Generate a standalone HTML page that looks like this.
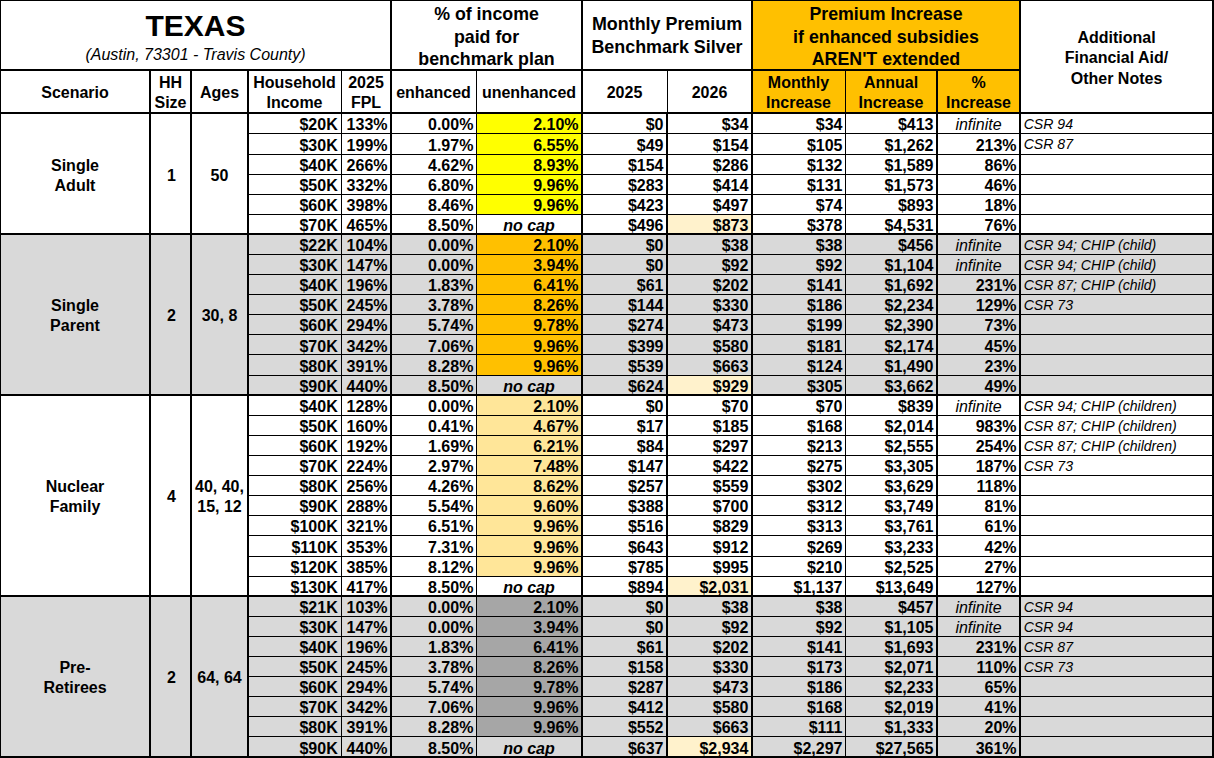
<!DOCTYPE html>
<html><head><meta charset="utf-8"><style>
html,body{margin:0;padding:0;background:#fff;}
body{width:1214px;height:758px;position:relative;overflow:hidden;font-family:"Liberation Sans",sans-serif;color:#000;}
.r{position:absolute;}
.t{position:absolute;white-space:nowrap;box-sizing:content-box;}
.b{font-weight:bold;}
.i{font-style:italic;}
.bi{font-weight:bold;font-style:italic;}
</style></head><body>
<div class="r" style="left:752px;top:0px;width:268px;height:113px;background:#FFC000"></div>
<div class="r" style="left:477px;top:113.3px;width:105px;height:100.50000000000001px;background:#FFFF00"></div>
<div class="r" style="left:667px;top:213.8px;width:85px;height:20.1px;background:#FFF2CC"></div>
<div class="r" style="left:0px;top:233.9px;width:1214px;height:160.80000000000004px;background:#D9D9D9"></div>
<div class="r" style="left:477px;top:233.9px;width:105px;height:140.70000000000002px;background:#FFC000"></div>
<div class="r" style="left:667px;top:374.6px;width:85px;height:20.1px;background:#FFF2CC"></div>
<div class="r" style="left:477px;top:394.70000000000005px;width:105px;height:180.89999999999998px;background:#FFE699"></div>
<div class="r" style="left:667px;top:575.6px;width:85px;height:20.1px;background:#FFF2CC"></div>
<div class="r" style="left:0px;top:595.7px;width:1214px;height:160.79999999999995px;background:#D9D9D9"></div>
<div class="r" style="left:477px;top:595.7px;width:105px;height:140.69999999999993px;background:#A6A6A6"></div>
<div class="r" style="left:667px;top:736.4px;width:85px;height:20.1px;background:#FFF2CC"></div>
<div class="r" style="left:0px;top:0px;width:1px;height:758px;background:#000"></div>
<div class="r" style="left:149px;top:69px;width:2px;height:689px;background:#000"></div>
<div class="r" style="left:190px;top:69px;width:2px;height:689px;background:#000"></div>
<div class="r" style="left:247px;top:69px;width:2px;height:689px;background:#000"></div>
<div class="r" style="left:341px;top:69px;width:1px;height:689px;background:#000"></div>
<div class="r" style="left:390px;top:0px;width:2px;height:758px;background:#000"></div>
<div class="r" style="left:476px;top:69px;width:1px;height:689px;background:#000"></div>
<div class="r" style="left:581px;top:0px;width:2px;height:758px;background:#000"></div>
<div class="r" style="left:667px;top:69px;width:1px;height:44px;background:#000"></div>
<div class="r" style="left:666px;top:112px;width:2px;height:646px;background:#000"></div>
<div class="r" style="left:751px;top:0px;width:2px;height:758px;background:#000"></div>
<div class="r" style="left:845px;top:69px;width:1px;height:689px;background:#000"></div>
<div class="r" style="left:936px;top:69px;width:2px;height:689px;background:#000"></div>
<div class="r" style="left:1019px;top:0px;width:2px;height:758px;background:#000"></div>
<div class="r" style="left:1212px;top:0px;width:2px;height:758px;background:#000"></div>
<div class="r" style="left:0px;top:0px;width:1214px;height:1px;background:#000"></div>
<div class="r" style="left:0px;top:69px;width:1020px;height:2px;background:#000"></div>
<div class="r" style="left:0px;top:112px;width:1214px;height:2px;background:#000"></div>
<div class="r" style="left:248px;top:133px;width:966px;height:1px;background:#000"></div>
<div class="r" style="left:248px;top:154px;width:966px;height:1px;background:#000"></div>
<div class="r" style="left:248px;top:174px;width:966px;height:1px;background:#000"></div>
<div class="r" style="left:248px;top:194px;width:966px;height:1px;background:#000"></div>
<div class="r" style="left:248px;top:214px;width:966px;height:1px;background:#000"></div>
<div class="r" style="left:0px;top:233px;width:1214px;height:2px;background:#000"></div>
<div class="r" style="left:248px;top:254px;width:966px;height:1px;background:#000"></div>
<div class="r" style="left:248px;top:274px;width:966px;height:1px;background:#000"></div>
<div class="r" style="left:248px;top:294px;width:966px;height:1px;background:#000"></div>
<div class="r" style="left:248px;top:314px;width:966px;height:1px;background:#000"></div>
<div class="r" style="left:248px;top:334px;width:966px;height:1px;background:#000"></div>
<div class="r" style="left:248px;top:354px;width:966px;height:1px;background:#000"></div>
<div class="r" style="left:248px;top:375px;width:966px;height:1px;background:#000"></div>
<div class="r" style="left:0px;top:394px;width:1214px;height:2px;background:#000"></div>
<div class="r" style="left:248px;top:415px;width:966px;height:1px;background:#000"></div>
<div class="r" style="left:248px;top:435px;width:966px;height:1px;background:#000"></div>
<div class="r" style="left:248px;top:455px;width:966px;height:1px;background:#000"></div>
<div class="r" style="left:248px;top:475px;width:966px;height:1px;background:#000"></div>
<div class="r" style="left:248px;top:495px;width:966px;height:1px;background:#000"></div>
<div class="r" style="left:248px;top:515px;width:966px;height:1px;background:#000"></div>
<div class="r" style="left:248px;top:535px;width:966px;height:1px;background:#000"></div>
<div class="r" style="left:248px;top:556px;width:966px;height:1px;background:#000"></div>
<div class="r" style="left:248px;top:576px;width:966px;height:1px;background:#000"></div>
<div class="r" style="left:0px;top:595px;width:1214px;height:2px;background:#000"></div>
<div class="r" style="left:248px;top:616px;width:966px;height:1px;background:#000"></div>
<div class="r" style="left:248px;top:636px;width:966px;height:1px;background:#000"></div>
<div class="r" style="left:248px;top:656px;width:966px;height:1px;background:#000"></div>
<div class="r" style="left:248px;top:676px;width:966px;height:1px;background:#000"></div>
<div class="r" style="left:248px;top:696px;width:966px;height:1px;background:#000"></div>
<div class="r" style="left:248px;top:716px;width:966px;height:1px;background:#000"></div>
<div class="r" style="left:248px;top:736px;width:966px;height:1px;background:#000"></div>
<div class="r" style="left:0px;top:756px;width:1214px;height:2px;background:#000"></div>
<div class="t b" style="left:0px;top:0px;width:391px;height:70px;text-align:center;line-height:36px;font-size:30px;top:7.5px;height:36px;">TEXAS</div>
<div class="t i" style="left:0px;top:40px;width:391px;height:30px;text-align:center;line-height:20px;font-size:16px;top:45px;height:20px;">(Austin, 73301 - Travis County)</div>
<div class="t b" style="left:391px;top:3px;width:191px;height:68px;text-align:center;line-height:22.5px;font-size:17.8px;">% of income<br>paid for<br>benchmark plan</div>
<div class="t b" style="left:582px;top:12.9px;width:170px;height:50px;text-align:center;line-height:23.2px;font-size:17.9px;">Monthly Premium<br>Benchmark Silver</div>
<div class="t b" style="left:752px;top:3px;width:268px;height:68px;text-align:center;line-height:22.5px;font-size:17.8px;">Premium Increase<br>if enhanced subsidies<br>AREN'T extended</div>
<div class="t b" style="left:1020px;top:28px;width:193px;height:70px;text-align:center;line-height:20.3px;font-size:16px;">Additional<br>Financial Aid/<br>Other Notes</div>
<div class="t b" style="left:0px;top:82.8px;width:150px;height:20px;text-align:center;line-height:20px;font-size:16px;">Scenario</div>
<div class="t b" style="left:150px;top:73.2px;width:41px;height:40px;text-align:center;line-height:20px;font-size:16px;">HH<br>Size</div>
<div class="t b" style="left:191px;top:82.8px;width:57px;height:20px;text-align:center;line-height:20px;font-size:16px;">Ages</div>
<div class="t b" style="left:248px;top:73.2px;width:93px;height:40px;text-align:center;line-height:20px;font-size:16px;">Household<br>Income</div>
<div class="t b" style="left:341px;top:73.2px;width:50px;height:40px;text-align:center;line-height:20px;font-size:16px;">2025<br>FPL</div>
<div class="t b" style="left:391px;top:82.8px;width:85px;height:20px;text-align:center;line-height:20px;font-size:16px;">enhanced</div>
<div class="t b" style="left:476px;top:82.8px;width:106px;height:20px;text-align:center;line-height:20px;font-size:16px;">unenhanced</div>
<div class="t b" style="left:582px;top:82.8px;width:85px;height:20px;text-align:center;line-height:20px;font-size:16px;">2025</div>
<div class="t b" style="left:667px;top:82.8px;width:85px;height:20px;text-align:center;line-height:20px;font-size:16px;">2026</div>
<div class="t b" style="left:752px;top:73.2px;width:93px;height:40px;text-align:center;line-height:20px;font-size:16px;">Monthly<br>Increase</div>
<div class="t b" style="left:845px;top:73.2px;width:92px;height:40px;text-align:center;line-height:20px;font-size:16px;">Annual<br>Increase</div>
<div class="t b" style="left:937px;top:73.2px;width:83px;height:40px;text-align:center;line-height:20px;font-size:16px;">%<br>Increase</div>
<div class="t b" style="left:0px;top:155.6px;width:150px;height:40px;text-align:center;line-height:20px;font-size:16px;">Single<br>Adult</div>
<div class="t b" style="left:151px;top:165.6px;width:41px;height:20px;text-align:center;line-height:20px;font-size:16px;">1</div>
<div class="t b" style="left:191px;top:165.6px;width:57px;height:20px;text-align:center;line-height:20px;font-size:16px;">50</div>
<div class="t b" style="left:249px;top:115.39999999999999px;width:88.7px;height:20.1px;text-align:right;padding-right:3.3px;line-height:20.1px;font-size:16px;">$20K</div>
<div class="t b" style="left:342px;top:115.39999999999999px;width:45.5px;height:20.1px;text-align:right;padding-right:2.5px;line-height:20.1px;font-size:16px;">133%</div>
<div class="t b" style="left:392px;top:115.39999999999999px;width:81.4px;height:20.1px;text-align:right;padding-right:2.6px;line-height:20.1px;font-size:16px;">0.00%</div>
<div class="t b" style="left:477px;top:115.39999999999999px;width:101.6px;height:20.1px;text-align:right;padding-right:2.4px;line-height:20.1px;font-size:16px;">2.10%</div>
<div class="t b" style="left:583px;top:115.39999999999999px;width:80.5px;height:20.1px;text-align:right;padding-right:2.5px;line-height:20.1px;font-size:16px;">$0</div>
<div class="t b" style="left:668px;top:115.39999999999999px;width:80.4px;height:20.1px;text-align:right;padding-right:2.6px;line-height:20.1px;font-size:16px;">$34</div>
<div class="t b" style="left:753px;top:115.39999999999999px;width:89.5px;height:20.1px;text-align:right;padding-right:2.5px;line-height:20.1px;font-size:16px;">$34</div>
<div class="t b" style="left:846px;top:115.39999999999999px;width:87.5px;height:20.1px;text-align:right;padding-right:2.5px;line-height:20.1px;font-size:16px;">$413</div>
<div class="t i" style="left:938px;top:115.39999999999999px;width:81px;height:20.1px;text-align:center;line-height:20.1px;font-size:16px;">infinite</div>
<div class="t i" style="left:1021px;top:114.19999999999999px;width:190px;height:20.1px;text-align:left;padding-left:2.7px;line-height:20.1px;font-size:14.1px;">CSR 94</div>
<div class="t b" style="left:249px;top:135.5px;width:88.7px;height:20.1px;text-align:right;padding-right:3.3px;line-height:20.1px;font-size:16px;">$30K</div>
<div class="t b" style="left:342px;top:135.5px;width:45.5px;height:20.1px;text-align:right;padding-right:2.5px;line-height:20.1px;font-size:16px;">199%</div>
<div class="t b" style="left:392px;top:135.5px;width:81.4px;height:20.1px;text-align:right;padding-right:2.6px;line-height:20.1px;font-size:16px;">1.97%</div>
<div class="t b" style="left:477px;top:135.5px;width:101.6px;height:20.1px;text-align:right;padding-right:2.4px;line-height:20.1px;font-size:16px;">6.55%</div>
<div class="t b" style="left:583px;top:135.5px;width:80.5px;height:20.1px;text-align:right;padding-right:2.5px;line-height:20.1px;font-size:16px;">$49</div>
<div class="t b" style="left:668px;top:135.5px;width:80.4px;height:20.1px;text-align:right;padding-right:2.6px;line-height:20.1px;font-size:16px;">$154</div>
<div class="t b" style="left:753px;top:135.5px;width:89.5px;height:20.1px;text-align:right;padding-right:2.5px;line-height:20.1px;font-size:16px;">$105</div>
<div class="t b" style="left:846px;top:135.5px;width:87.5px;height:20.1px;text-align:right;padding-right:2.5px;line-height:20.1px;font-size:16px;">$1,262</div>
<div class="t b" style="left:938px;top:135.5px;width:78.6px;height:20.1px;text-align:right;padding-right:2.4px;line-height:20.1px;font-size:16px;">213%</div>
<div class="t i" style="left:1021px;top:134.3px;width:190px;height:20.1px;text-align:left;padding-left:2.7px;line-height:20.1px;font-size:14.1px;">CSR 87</div>
<div class="t b" style="left:249px;top:155.6px;width:88.7px;height:20.1px;text-align:right;padding-right:3.3px;line-height:20.1px;font-size:16px;">$40K</div>
<div class="t b" style="left:342px;top:155.6px;width:45.5px;height:20.1px;text-align:right;padding-right:2.5px;line-height:20.1px;font-size:16px;">266%</div>
<div class="t b" style="left:392px;top:155.6px;width:81.4px;height:20.1px;text-align:right;padding-right:2.6px;line-height:20.1px;font-size:16px;">4.62%</div>
<div class="t b" style="left:477px;top:155.6px;width:101.6px;height:20.1px;text-align:right;padding-right:2.4px;line-height:20.1px;font-size:16px;">8.93%</div>
<div class="t b" style="left:583px;top:155.6px;width:80.5px;height:20.1px;text-align:right;padding-right:2.5px;line-height:20.1px;font-size:16px;">$154</div>
<div class="t b" style="left:668px;top:155.6px;width:80.4px;height:20.1px;text-align:right;padding-right:2.6px;line-height:20.1px;font-size:16px;">$286</div>
<div class="t b" style="left:753px;top:155.6px;width:89.5px;height:20.1px;text-align:right;padding-right:2.5px;line-height:20.1px;font-size:16px;">$132</div>
<div class="t b" style="left:846px;top:155.6px;width:87.5px;height:20.1px;text-align:right;padding-right:2.5px;line-height:20.1px;font-size:16px;">$1,589</div>
<div class="t b" style="left:938px;top:155.6px;width:78.6px;height:20.1px;text-align:right;padding-right:2.4px;line-height:20.1px;font-size:16px;">86%</div>
<div class="t b" style="left:249px;top:175.7px;width:88.7px;height:20.1px;text-align:right;padding-right:3.3px;line-height:20.1px;font-size:16px;">$50K</div>
<div class="t b" style="left:342px;top:175.7px;width:45.5px;height:20.1px;text-align:right;padding-right:2.5px;line-height:20.1px;font-size:16px;">332%</div>
<div class="t b" style="left:392px;top:175.7px;width:81.4px;height:20.1px;text-align:right;padding-right:2.6px;line-height:20.1px;font-size:16px;">6.80%</div>
<div class="t b" style="left:477px;top:175.7px;width:101.6px;height:20.1px;text-align:right;padding-right:2.4px;line-height:20.1px;font-size:16px;">9.96%</div>
<div class="t b" style="left:583px;top:175.7px;width:80.5px;height:20.1px;text-align:right;padding-right:2.5px;line-height:20.1px;font-size:16px;">$283</div>
<div class="t b" style="left:668px;top:175.7px;width:80.4px;height:20.1px;text-align:right;padding-right:2.6px;line-height:20.1px;font-size:16px;">$414</div>
<div class="t b" style="left:753px;top:175.7px;width:89.5px;height:20.1px;text-align:right;padding-right:2.5px;line-height:20.1px;font-size:16px;">$131</div>
<div class="t b" style="left:846px;top:175.7px;width:87.5px;height:20.1px;text-align:right;padding-right:2.5px;line-height:20.1px;font-size:16px;">$1,573</div>
<div class="t b" style="left:938px;top:175.7px;width:78.6px;height:20.1px;text-align:right;padding-right:2.4px;line-height:20.1px;font-size:16px;">46%</div>
<div class="t b" style="left:249px;top:195.79999999999998px;width:88.7px;height:20.1px;text-align:right;padding-right:3.3px;line-height:20.1px;font-size:16px;">$60K</div>
<div class="t b" style="left:342px;top:195.79999999999998px;width:45.5px;height:20.1px;text-align:right;padding-right:2.5px;line-height:20.1px;font-size:16px;">398%</div>
<div class="t b" style="left:392px;top:195.79999999999998px;width:81.4px;height:20.1px;text-align:right;padding-right:2.6px;line-height:20.1px;font-size:16px;">8.46%</div>
<div class="t b" style="left:477px;top:195.79999999999998px;width:101.6px;height:20.1px;text-align:right;padding-right:2.4px;line-height:20.1px;font-size:16px;">9.96%</div>
<div class="t b" style="left:583px;top:195.79999999999998px;width:80.5px;height:20.1px;text-align:right;padding-right:2.5px;line-height:20.1px;font-size:16px;">$423</div>
<div class="t b" style="left:668px;top:195.79999999999998px;width:80.4px;height:20.1px;text-align:right;padding-right:2.6px;line-height:20.1px;font-size:16px;">$497</div>
<div class="t b" style="left:753px;top:195.79999999999998px;width:89.5px;height:20.1px;text-align:right;padding-right:2.5px;line-height:20.1px;font-size:16px;">$74</div>
<div class="t b" style="left:846px;top:195.79999999999998px;width:87.5px;height:20.1px;text-align:right;padding-right:2.5px;line-height:20.1px;font-size:16px;">$893</div>
<div class="t b" style="left:938px;top:195.79999999999998px;width:78.6px;height:20.1px;text-align:right;padding-right:2.4px;line-height:20.1px;font-size:16px;">18%</div>
<div class="t b" style="left:249px;top:215.9px;width:88.7px;height:20.1px;text-align:right;padding-right:3.3px;line-height:20.1px;font-size:16px;">$70K</div>
<div class="t b" style="left:342px;top:215.9px;width:45.5px;height:20.1px;text-align:right;padding-right:2.5px;line-height:20.1px;font-size:16px;">465%</div>
<div class="t b" style="left:392px;top:215.9px;width:81.4px;height:20.1px;text-align:right;padding-right:2.6px;line-height:20.1px;font-size:16px;">8.50%</div>
<div class="t bi" style="left:477px;top:215.9px;width:104px;height:20.1px;text-align:center;line-height:20.1px;font-size:16px;">no cap</div>
<div class="t b" style="left:583px;top:215.9px;width:80.5px;height:20.1px;text-align:right;padding-right:2.5px;line-height:20.1px;font-size:16px;">$496</div>
<div class="t b" style="left:668px;top:215.9px;width:80.4px;height:20.1px;text-align:right;padding-right:2.6px;line-height:20.1px;font-size:16px;">$873</div>
<div class="t b" style="left:753px;top:215.9px;width:89.5px;height:20.1px;text-align:right;padding-right:2.5px;line-height:20.1px;font-size:16px;">$378</div>
<div class="t b" style="left:846px;top:215.9px;width:87.5px;height:20.1px;text-align:right;padding-right:2.5px;line-height:20.1px;font-size:16px;">$4,531</div>
<div class="t b" style="left:938px;top:215.9px;width:78.6px;height:20.1px;text-align:right;padding-right:2.4px;line-height:20.1px;font-size:16px;">76%</div>
<div class="t b" style="left:0px;top:296.3px;width:150px;height:40px;text-align:center;line-height:20px;font-size:16px;">Single<br>Parent</div>
<div class="t b" style="left:151px;top:306.3px;width:41px;height:20px;text-align:center;line-height:20px;font-size:16px;">2</div>
<div class="t b" style="left:191px;top:306.3px;width:57px;height:20px;text-align:center;line-height:20px;font-size:16px;">30, 8</div>
<div class="t b" style="left:249px;top:236.0px;width:88.7px;height:20.1px;text-align:right;padding-right:3.3px;line-height:20.1px;font-size:16px;">$22K</div>
<div class="t b" style="left:342px;top:236.0px;width:45.5px;height:20.1px;text-align:right;padding-right:2.5px;line-height:20.1px;font-size:16px;">104%</div>
<div class="t b" style="left:392px;top:236.0px;width:81.4px;height:20.1px;text-align:right;padding-right:2.6px;line-height:20.1px;font-size:16px;">0.00%</div>
<div class="t b" style="left:477px;top:236.0px;width:101.6px;height:20.1px;text-align:right;padding-right:2.4px;line-height:20.1px;font-size:16px;">2.10%</div>
<div class="t b" style="left:583px;top:236.0px;width:80.5px;height:20.1px;text-align:right;padding-right:2.5px;line-height:20.1px;font-size:16px;">$0</div>
<div class="t b" style="left:668px;top:236.0px;width:80.4px;height:20.1px;text-align:right;padding-right:2.6px;line-height:20.1px;font-size:16px;">$38</div>
<div class="t b" style="left:753px;top:236.0px;width:89.5px;height:20.1px;text-align:right;padding-right:2.5px;line-height:20.1px;font-size:16px;">$38</div>
<div class="t b" style="left:846px;top:236.0px;width:87.5px;height:20.1px;text-align:right;padding-right:2.5px;line-height:20.1px;font-size:16px;">$456</div>
<div class="t i" style="left:938px;top:236.0px;width:81px;height:20.1px;text-align:center;line-height:20.1px;font-size:16px;">infinite</div>
<div class="t i" style="left:1021px;top:234.8px;width:190px;height:20.1px;text-align:left;padding-left:2.7px;line-height:20.1px;font-size:14.1px;">CSR 94; CHIP (child)</div>
<div class="t b" style="left:249px;top:256.1px;width:88.7px;height:20.1px;text-align:right;padding-right:3.3px;line-height:20.1px;font-size:16px;">$30K</div>
<div class="t b" style="left:342px;top:256.1px;width:45.5px;height:20.1px;text-align:right;padding-right:2.5px;line-height:20.1px;font-size:16px;">147%</div>
<div class="t b" style="left:392px;top:256.1px;width:81.4px;height:20.1px;text-align:right;padding-right:2.6px;line-height:20.1px;font-size:16px;">0.00%</div>
<div class="t b" style="left:477px;top:256.1px;width:101.6px;height:20.1px;text-align:right;padding-right:2.4px;line-height:20.1px;font-size:16px;">3.94%</div>
<div class="t b" style="left:583px;top:256.1px;width:80.5px;height:20.1px;text-align:right;padding-right:2.5px;line-height:20.1px;font-size:16px;">$0</div>
<div class="t b" style="left:668px;top:256.1px;width:80.4px;height:20.1px;text-align:right;padding-right:2.6px;line-height:20.1px;font-size:16px;">$92</div>
<div class="t b" style="left:753px;top:256.1px;width:89.5px;height:20.1px;text-align:right;padding-right:2.5px;line-height:20.1px;font-size:16px;">$92</div>
<div class="t b" style="left:846px;top:256.1px;width:87.5px;height:20.1px;text-align:right;padding-right:2.5px;line-height:20.1px;font-size:16px;">$1,104</div>
<div class="t i" style="left:938px;top:256.1px;width:81px;height:20.1px;text-align:center;line-height:20.1px;font-size:16px;">infinite</div>
<div class="t i" style="left:1021px;top:254.90000000000003px;width:190px;height:20.1px;text-align:left;padding-left:2.7px;line-height:20.1px;font-size:14.1px;">CSR 94; CHIP (child)</div>
<div class="t b" style="left:249px;top:276.20000000000005px;width:88.7px;height:20.1px;text-align:right;padding-right:3.3px;line-height:20.1px;font-size:16px;">$40K</div>
<div class="t b" style="left:342px;top:276.20000000000005px;width:45.5px;height:20.1px;text-align:right;padding-right:2.5px;line-height:20.1px;font-size:16px;">196%</div>
<div class="t b" style="left:392px;top:276.20000000000005px;width:81.4px;height:20.1px;text-align:right;padding-right:2.6px;line-height:20.1px;font-size:16px;">1.83%</div>
<div class="t b" style="left:477px;top:276.20000000000005px;width:101.6px;height:20.1px;text-align:right;padding-right:2.4px;line-height:20.1px;font-size:16px;">6.41%</div>
<div class="t b" style="left:583px;top:276.20000000000005px;width:80.5px;height:20.1px;text-align:right;padding-right:2.5px;line-height:20.1px;font-size:16px;">$61</div>
<div class="t b" style="left:668px;top:276.20000000000005px;width:80.4px;height:20.1px;text-align:right;padding-right:2.6px;line-height:20.1px;font-size:16px;">$202</div>
<div class="t b" style="left:753px;top:276.20000000000005px;width:89.5px;height:20.1px;text-align:right;padding-right:2.5px;line-height:20.1px;font-size:16px;">$141</div>
<div class="t b" style="left:846px;top:276.20000000000005px;width:87.5px;height:20.1px;text-align:right;padding-right:2.5px;line-height:20.1px;font-size:16px;">$1,692</div>
<div class="t b" style="left:938px;top:276.20000000000005px;width:78.6px;height:20.1px;text-align:right;padding-right:2.4px;line-height:20.1px;font-size:16px;">231%</div>
<div class="t i" style="left:1021px;top:275.00000000000006px;width:190px;height:20.1px;text-align:left;padding-left:2.7px;line-height:20.1px;font-size:14.1px;">CSR 87; CHIP (child)</div>
<div class="t b" style="left:249px;top:296.3px;width:88.7px;height:20.1px;text-align:right;padding-right:3.3px;line-height:20.1px;font-size:16px;">$50K</div>
<div class="t b" style="left:342px;top:296.3px;width:45.5px;height:20.1px;text-align:right;padding-right:2.5px;line-height:20.1px;font-size:16px;">245%</div>
<div class="t b" style="left:392px;top:296.3px;width:81.4px;height:20.1px;text-align:right;padding-right:2.6px;line-height:20.1px;font-size:16px;">3.78%</div>
<div class="t b" style="left:477px;top:296.3px;width:101.6px;height:20.1px;text-align:right;padding-right:2.4px;line-height:20.1px;font-size:16px;">8.26%</div>
<div class="t b" style="left:583px;top:296.3px;width:80.5px;height:20.1px;text-align:right;padding-right:2.5px;line-height:20.1px;font-size:16px;">$144</div>
<div class="t b" style="left:668px;top:296.3px;width:80.4px;height:20.1px;text-align:right;padding-right:2.6px;line-height:20.1px;font-size:16px;">$330</div>
<div class="t b" style="left:753px;top:296.3px;width:89.5px;height:20.1px;text-align:right;padding-right:2.5px;line-height:20.1px;font-size:16px;">$186</div>
<div class="t b" style="left:846px;top:296.3px;width:87.5px;height:20.1px;text-align:right;padding-right:2.5px;line-height:20.1px;font-size:16px;">$2,234</div>
<div class="t b" style="left:938px;top:296.3px;width:78.6px;height:20.1px;text-align:right;padding-right:2.4px;line-height:20.1px;font-size:16px;">129%</div>
<div class="t i" style="left:1021px;top:295.1px;width:190px;height:20.1px;text-align:left;padding-left:2.7px;line-height:20.1px;font-size:14.1px;">CSR 73</div>
<div class="t b" style="left:249px;top:316.40000000000003px;width:88.7px;height:20.1px;text-align:right;padding-right:3.3px;line-height:20.1px;font-size:16px;">$60K</div>
<div class="t b" style="left:342px;top:316.40000000000003px;width:45.5px;height:20.1px;text-align:right;padding-right:2.5px;line-height:20.1px;font-size:16px;">294%</div>
<div class="t b" style="left:392px;top:316.40000000000003px;width:81.4px;height:20.1px;text-align:right;padding-right:2.6px;line-height:20.1px;font-size:16px;">5.74%</div>
<div class="t b" style="left:477px;top:316.40000000000003px;width:101.6px;height:20.1px;text-align:right;padding-right:2.4px;line-height:20.1px;font-size:16px;">9.78%</div>
<div class="t b" style="left:583px;top:316.40000000000003px;width:80.5px;height:20.1px;text-align:right;padding-right:2.5px;line-height:20.1px;font-size:16px;">$274</div>
<div class="t b" style="left:668px;top:316.40000000000003px;width:80.4px;height:20.1px;text-align:right;padding-right:2.6px;line-height:20.1px;font-size:16px;">$473</div>
<div class="t b" style="left:753px;top:316.40000000000003px;width:89.5px;height:20.1px;text-align:right;padding-right:2.5px;line-height:20.1px;font-size:16px;">$199</div>
<div class="t b" style="left:846px;top:316.40000000000003px;width:87.5px;height:20.1px;text-align:right;padding-right:2.5px;line-height:20.1px;font-size:16px;">$2,390</div>
<div class="t b" style="left:938px;top:316.40000000000003px;width:78.6px;height:20.1px;text-align:right;padding-right:2.4px;line-height:20.1px;font-size:16px;">73%</div>
<div class="t b" style="left:249px;top:336.50000000000006px;width:88.7px;height:20.1px;text-align:right;padding-right:3.3px;line-height:20.1px;font-size:16px;">$70K</div>
<div class="t b" style="left:342px;top:336.50000000000006px;width:45.5px;height:20.1px;text-align:right;padding-right:2.5px;line-height:20.1px;font-size:16px;">342%</div>
<div class="t b" style="left:392px;top:336.50000000000006px;width:81.4px;height:20.1px;text-align:right;padding-right:2.6px;line-height:20.1px;font-size:16px;">7.06%</div>
<div class="t b" style="left:477px;top:336.50000000000006px;width:101.6px;height:20.1px;text-align:right;padding-right:2.4px;line-height:20.1px;font-size:16px;">9.96%</div>
<div class="t b" style="left:583px;top:336.50000000000006px;width:80.5px;height:20.1px;text-align:right;padding-right:2.5px;line-height:20.1px;font-size:16px;">$399</div>
<div class="t b" style="left:668px;top:336.50000000000006px;width:80.4px;height:20.1px;text-align:right;padding-right:2.6px;line-height:20.1px;font-size:16px;">$580</div>
<div class="t b" style="left:753px;top:336.50000000000006px;width:89.5px;height:20.1px;text-align:right;padding-right:2.5px;line-height:20.1px;font-size:16px;">$181</div>
<div class="t b" style="left:846px;top:336.50000000000006px;width:87.5px;height:20.1px;text-align:right;padding-right:2.5px;line-height:20.1px;font-size:16px;">$2,174</div>
<div class="t b" style="left:938px;top:336.50000000000006px;width:78.6px;height:20.1px;text-align:right;padding-right:2.4px;line-height:20.1px;font-size:16px;">45%</div>
<div class="t b" style="left:249px;top:356.6px;width:88.7px;height:20.1px;text-align:right;padding-right:3.3px;line-height:20.1px;font-size:16px;">$80K</div>
<div class="t b" style="left:342px;top:356.6px;width:45.5px;height:20.1px;text-align:right;padding-right:2.5px;line-height:20.1px;font-size:16px;">391%</div>
<div class="t b" style="left:392px;top:356.6px;width:81.4px;height:20.1px;text-align:right;padding-right:2.6px;line-height:20.1px;font-size:16px;">8.28%</div>
<div class="t b" style="left:477px;top:356.6px;width:101.6px;height:20.1px;text-align:right;padding-right:2.4px;line-height:20.1px;font-size:16px;">9.96%</div>
<div class="t b" style="left:583px;top:356.6px;width:80.5px;height:20.1px;text-align:right;padding-right:2.5px;line-height:20.1px;font-size:16px;">$539</div>
<div class="t b" style="left:668px;top:356.6px;width:80.4px;height:20.1px;text-align:right;padding-right:2.6px;line-height:20.1px;font-size:16px;">$663</div>
<div class="t b" style="left:753px;top:356.6px;width:89.5px;height:20.1px;text-align:right;padding-right:2.5px;line-height:20.1px;font-size:16px;">$124</div>
<div class="t b" style="left:846px;top:356.6px;width:87.5px;height:20.1px;text-align:right;padding-right:2.5px;line-height:20.1px;font-size:16px;">$1,490</div>
<div class="t b" style="left:938px;top:356.6px;width:78.6px;height:20.1px;text-align:right;padding-right:2.4px;line-height:20.1px;font-size:16px;">23%</div>
<div class="t b" style="left:249px;top:376.70000000000005px;width:88.7px;height:20.1px;text-align:right;padding-right:3.3px;line-height:20.1px;font-size:16px;">$90K</div>
<div class="t b" style="left:342px;top:376.70000000000005px;width:45.5px;height:20.1px;text-align:right;padding-right:2.5px;line-height:20.1px;font-size:16px;">440%</div>
<div class="t b" style="left:392px;top:376.70000000000005px;width:81.4px;height:20.1px;text-align:right;padding-right:2.6px;line-height:20.1px;font-size:16px;">8.50%</div>
<div class="t bi" style="left:477px;top:376.70000000000005px;width:104px;height:20.1px;text-align:center;line-height:20.1px;font-size:16px;">no cap</div>
<div class="t b" style="left:583px;top:376.70000000000005px;width:80.5px;height:20.1px;text-align:right;padding-right:2.5px;line-height:20.1px;font-size:16px;">$624</div>
<div class="t b" style="left:668px;top:376.70000000000005px;width:80.4px;height:20.1px;text-align:right;padding-right:2.6px;line-height:20.1px;font-size:16px;">$929</div>
<div class="t b" style="left:753px;top:376.70000000000005px;width:89.5px;height:20.1px;text-align:right;padding-right:2.5px;line-height:20.1px;font-size:16px;">$305</div>
<div class="t b" style="left:846px;top:376.70000000000005px;width:87.5px;height:20.1px;text-align:right;padding-right:2.5px;line-height:20.1px;font-size:16px;">$3,662</div>
<div class="t b" style="left:938px;top:376.70000000000005px;width:78.6px;height:20.1px;text-align:right;padding-right:2.4px;line-height:20.1px;font-size:16px;">49%</div>
<div class="t b" style="left:0px;top:477.20000000000005px;width:150px;height:40px;text-align:center;line-height:20px;font-size:16px;">Nuclear<br>Family</div>
<div class="t b" style="left:151px;top:487.20000000000005px;width:41px;height:20px;text-align:center;line-height:20px;font-size:16px;">4</div>
<div class="t b" style="left:191px;top:477.20000000000005px;width:57px;height:40px;text-align:center;line-height:20px;font-size:16px;">40, 40,<br>15, 12</div>
<div class="t b" style="left:249px;top:396.80000000000007px;width:88.7px;height:20.1px;text-align:right;padding-right:3.3px;line-height:20.1px;font-size:16px;">$40K</div>
<div class="t b" style="left:342px;top:396.80000000000007px;width:45.5px;height:20.1px;text-align:right;padding-right:2.5px;line-height:20.1px;font-size:16px;">128%</div>
<div class="t b" style="left:392px;top:396.80000000000007px;width:81.4px;height:20.1px;text-align:right;padding-right:2.6px;line-height:20.1px;font-size:16px;">0.00%</div>
<div class="t b" style="left:477px;top:396.80000000000007px;width:101.6px;height:20.1px;text-align:right;padding-right:2.4px;line-height:20.1px;font-size:16px;">2.10%</div>
<div class="t b" style="left:583px;top:396.80000000000007px;width:80.5px;height:20.1px;text-align:right;padding-right:2.5px;line-height:20.1px;font-size:16px;">$0</div>
<div class="t b" style="left:668px;top:396.80000000000007px;width:80.4px;height:20.1px;text-align:right;padding-right:2.6px;line-height:20.1px;font-size:16px;">$70</div>
<div class="t b" style="left:753px;top:396.80000000000007px;width:89.5px;height:20.1px;text-align:right;padding-right:2.5px;line-height:20.1px;font-size:16px;">$70</div>
<div class="t b" style="left:846px;top:396.80000000000007px;width:87.5px;height:20.1px;text-align:right;padding-right:2.5px;line-height:20.1px;font-size:16px;">$839</div>
<div class="t i" style="left:938px;top:396.80000000000007px;width:81px;height:20.1px;text-align:center;line-height:20.1px;font-size:16px;">infinite</div>
<div class="t i" style="left:1021px;top:395.6000000000001px;width:190px;height:20.1px;text-align:left;padding-left:2.7px;line-height:20.1px;font-size:14.1px;">CSR 94; CHIP (children)</div>
<div class="t b" style="left:249px;top:416.90000000000003px;width:88.7px;height:20.1px;text-align:right;padding-right:3.3px;line-height:20.1px;font-size:16px;">$50K</div>
<div class="t b" style="left:342px;top:416.90000000000003px;width:45.5px;height:20.1px;text-align:right;padding-right:2.5px;line-height:20.1px;font-size:16px;">160%</div>
<div class="t b" style="left:392px;top:416.90000000000003px;width:81.4px;height:20.1px;text-align:right;padding-right:2.6px;line-height:20.1px;font-size:16px;">0.41%</div>
<div class="t b" style="left:477px;top:416.90000000000003px;width:101.6px;height:20.1px;text-align:right;padding-right:2.4px;line-height:20.1px;font-size:16px;">4.67%</div>
<div class="t b" style="left:583px;top:416.90000000000003px;width:80.5px;height:20.1px;text-align:right;padding-right:2.5px;line-height:20.1px;font-size:16px;">$17</div>
<div class="t b" style="left:668px;top:416.90000000000003px;width:80.4px;height:20.1px;text-align:right;padding-right:2.6px;line-height:20.1px;font-size:16px;">$185</div>
<div class="t b" style="left:753px;top:416.90000000000003px;width:89.5px;height:20.1px;text-align:right;padding-right:2.5px;line-height:20.1px;font-size:16px;">$168</div>
<div class="t b" style="left:846px;top:416.90000000000003px;width:87.5px;height:20.1px;text-align:right;padding-right:2.5px;line-height:20.1px;font-size:16px;">$2,014</div>
<div class="t b" style="left:938px;top:416.90000000000003px;width:78.6px;height:20.1px;text-align:right;padding-right:2.4px;line-height:20.1px;font-size:16px;">983%</div>
<div class="t i" style="left:1021px;top:415.70000000000005px;width:190px;height:20.1px;text-align:left;padding-left:2.7px;line-height:20.1px;font-size:14.1px;">CSR 87; CHIP (children)</div>
<div class="t b" style="left:249px;top:437.00000000000006px;width:88.7px;height:20.1px;text-align:right;padding-right:3.3px;line-height:20.1px;font-size:16px;">$60K</div>
<div class="t b" style="left:342px;top:437.00000000000006px;width:45.5px;height:20.1px;text-align:right;padding-right:2.5px;line-height:20.1px;font-size:16px;">192%</div>
<div class="t b" style="left:392px;top:437.00000000000006px;width:81.4px;height:20.1px;text-align:right;padding-right:2.6px;line-height:20.1px;font-size:16px;">1.69%</div>
<div class="t b" style="left:477px;top:437.00000000000006px;width:101.6px;height:20.1px;text-align:right;padding-right:2.4px;line-height:20.1px;font-size:16px;">6.21%</div>
<div class="t b" style="left:583px;top:437.00000000000006px;width:80.5px;height:20.1px;text-align:right;padding-right:2.5px;line-height:20.1px;font-size:16px;">$84</div>
<div class="t b" style="left:668px;top:437.00000000000006px;width:80.4px;height:20.1px;text-align:right;padding-right:2.6px;line-height:20.1px;font-size:16px;">$297</div>
<div class="t b" style="left:753px;top:437.00000000000006px;width:89.5px;height:20.1px;text-align:right;padding-right:2.5px;line-height:20.1px;font-size:16px;">$213</div>
<div class="t b" style="left:846px;top:437.00000000000006px;width:87.5px;height:20.1px;text-align:right;padding-right:2.5px;line-height:20.1px;font-size:16px;">$2,555</div>
<div class="t b" style="left:938px;top:437.00000000000006px;width:78.6px;height:20.1px;text-align:right;padding-right:2.4px;line-height:20.1px;font-size:16px;">254%</div>
<div class="t i" style="left:1021px;top:435.80000000000007px;width:190px;height:20.1px;text-align:left;padding-left:2.7px;line-height:20.1px;font-size:14.1px;">CSR 87; CHIP (children)</div>
<div class="t b" style="left:249px;top:457.1000000000001px;width:88.7px;height:20.1px;text-align:right;padding-right:3.3px;line-height:20.1px;font-size:16px;">$70K</div>
<div class="t b" style="left:342px;top:457.1000000000001px;width:45.5px;height:20.1px;text-align:right;padding-right:2.5px;line-height:20.1px;font-size:16px;">224%</div>
<div class="t b" style="left:392px;top:457.1000000000001px;width:81.4px;height:20.1px;text-align:right;padding-right:2.6px;line-height:20.1px;font-size:16px;">2.97%</div>
<div class="t b" style="left:477px;top:457.1000000000001px;width:101.6px;height:20.1px;text-align:right;padding-right:2.4px;line-height:20.1px;font-size:16px;">7.48%</div>
<div class="t b" style="left:583px;top:457.1000000000001px;width:80.5px;height:20.1px;text-align:right;padding-right:2.5px;line-height:20.1px;font-size:16px;">$147</div>
<div class="t b" style="left:668px;top:457.1000000000001px;width:80.4px;height:20.1px;text-align:right;padding-right:2.6px;line-height:20.1px;font-size:16px;">$422</div>
<div class="t b" style="left:753px;top:457.1000000000001px;width:89.5px;height:20.1px;text-align:right;padding-right:2.5px;line-height:20.1px;font-size:16px;">$275</div>
<div class="t b" style="left:846px;top:457.1000000000001px;width:87.5px;height:20.1px;text-align:right;padding-right:2.5px;line-height:20.1px;font-size:16px;">$3,305</div>
<div class="t b" style="left:938px;top:457.1000000000001px;width:78.6px;height:20.1px;text-align:right;padding-right:2.4px;line-height:20.1px;font-size:16px;">187%</div>
<div class="t i" style="left:1021px;top:455.9000000000001px;width:190px;height:20.1px;text-align:left;padding-left:2.7px;line-height:20.1px;font-size:14.1px;">CSR 73</div>
<div class="t b" style="left:249px;top:477.20000000000005px;width:88.7px;height:20.1px;text-align:right;padding-right:3.3px;line-height:20.1px;font-size:16px;">$80K</div>
<div class="t b" style="left:342px;top:477.20000000000005px;width:45.5px;height:20.1px;text-align:right;padding-right:2.5px;line-height:20.1px;font-size:16px;">256%</div>
<div class="t b" style="left:392px;top:477.20000000000005px;width:81.4px;height:20.1px;text-align:right;padding-right:2.6px;line-height:20.1px;font-size:16px;">4.26%</div>
<div class="t b" style="left:477px;top:477.20000000000005px;width:101.6px;height:20.1px;text-align:right;padding-right:2.4px;line-height:20.1px;font-size:16px;">8.62%</div>
<div class="t b" style="left:583px;top:477.20000000000005px;width:80.5px;height:20.1px;text-align:right;padding-right:2.5px;line-height:20.1px;font-size:16px;">$257</div>
<div class="t b" style="left:668px;top:477.20000000000005px;width:80.4px;height:20.1px;text-align:right;padding-right:2.6px;line-height:20.1px;font-size:16px;">$559</div>
<div class="t b" style="left:753px;top:477.20000000000005px;width:89.5px;height:20.1px;text-align:right;padding-right:2.5px;line-height:20.1px;font-size:16px;">$302</div>
<div class="t b" style="left:846px;top:477.20000000000005px;width:87.5px;height:20.1px;text-align:right;padding-right:2.5px;line-height:20.1px;font-size:16px;">$3,629</div>
<div class="t b" style="left:938px;top:477.20000000000005px;width:78.6px;height:20.1px;text-align:right;padding-right:2.4px;line-height:20.1px;font-size:16px;">118%</div>
<div class="t b" style="left:249px;top:497.30000000000007px;width:88.7px;height:20.1px;text-align:right;padding-right:3.3px;line-height:20.1px;font-size:16px;">$90K</div>
<div class="t b" style="left:342px;top:497.30000000000007px;width:45.5px;height:20.1px;text-align:right;padding-right:2.5px;line-height:20.1px;font-size:16px;">288%</div>
<div class="t b" style="left:392px;top:497.30000000000007px;width:81.4px;height:20.1px;text-align:right;padding-right:2.6px;line-height:20.1px;font-size:16px;">5.54%</div>
<div class="t b" style="left:477px;top:497.30000000000007px;width:101.6px;height:20.1px;text-align:right;padding-right:2.4px;line-height:20.1px;font-size:16px;">9.60%</div>
<div class="t b" style="left:583px;top:497.30000000000007px;width:80.5px;height:20.1px;text-align:right;padding-right:2.5px;line-height:20.1px;font-size:16px;">$388</div>
<div class="t b" style="left:668px;top:497.30000000000007px;width:80.4px;height:20.1px;text-align:right;padding-right:2.6px;line-height:20.1px;font-size:16px;">$700</div>
<div class="t b" style="left:753px;top:497.30000000000007px;width:89.5px;height:20.1px;text-align:right;padding-right:2.5px;line-height:20.1px;font-size:16px;">$312</div>
<div class="t b" style="left:846px;top:497.30000000000007px;width:87.5px;height:20.1px;text-align:right;padding-right:2.5px;line-height:20.1px;font-size:16px;">$3,749</div>
<div class="t b" style="left:938px;top:497.30000000000007px;width:78.6px;height:20.1px;text-align:right;padding-right:2.4px;line-height:20.1px;font-size:16px;">81%</div>
<div class="t b" style="left:249px;top:517.4px;width:88.7px;height:20.1px;text-align:right;padding-right:3.3px;line-height:20.1px;font-size:16px;">$100K</div>
<div class="t b" style="left:342px;top:517.4px;width:45.5px;height:20.1px;text-align:right;padding-right:2.5px;line-height:20.1px;font-size:16px;">321%</div>
<div class="t b" style="left:392px;top:517.4px;width:81.4px;height:20.1px;text-align:right;padding-right:2.6px;line-height:20.1px;font-size:16px;">6.51%</div>
<div class="t b" style="left:477px;top:517.4px;width:101.6px;height:20.1px;text-align:right;padding-right:2.4px;line-height:20.1px;font-size:16px;">9.96%</div>
<div class="t b" style="left:583px;top:517.4px;width:80.5px;height:20.1px;text-align:right;padding-right:2.5px;line-height:20.1px;font-size:16px;">$516</div>
<div class="t b" style="left:668px;top:517.4px;width:80.4px;height:20.1px;text-align:right;padding-right:2.6px;line-height:20.1px;font-size:16px;">$829</div>
<div class="t b" style="left:753px;top:517.4px;width:89.5px;height:20.1px;text-align:right;padding-right:2.5px;line-height:20.1px;font-size:16px;">$313</div>
<div class="t b" style="left:846px;top:517.4px;width:87.5px;height:20.1px;text-align:right;padding-right:2.5px;line-height:20.1px;font-size:16px;">$3,761</div>
<div class="t b" style="left:938px;top:517.4px;width:78.6px;height:20.1px;text-align:right;padding-right:2.4px;line-height:20.1px;font-size:16px;">61%</div>
<div class="t b" style="left:249px;top:537.5px;width:88.7px;height:20.1px;text-align:right;padding-right:3.3px;line-height:20.1px;font-size:16px;">$110K</div>
<div class="t b" style="left:342px;top:537.5px;width:45.5px;height:20.1px;text-align:right;padding-right:2.5px;line-height:20.1px;font-size:16px;">353%</div>
<div class="t b" style="left:392px;top:537.5px;width:81.4px;height:20.1px;text-align:right;padding-right:2.6px;line-height:20.1px;font-size:16px;">7.31%</div>
<div class="t b" style="left:477px;top:537.5px;width:101.6px;height:20.1px;text-align:right;padding-right:2.4px;line-height:20.1px;font-size:16px;">9.96%</div>
<div class="t b" style="left:583px;top:537.5px;width:80.5px;height:20.1px;text-align:right;padding-right:2.5px;line-height:20.1px;font-size:16px;">$643</div>
<div class="t b" style="left:668px;top:537.5px;width:80.4px;height:20.1px;text-align:right;padding-right:2.6px;line-height:20.1px;font-size:16px;">$912</div>
<div class="t b" style="left:753px;top:537.5px;width:89.5px;height:20.1px;text-align:right;padding-right:2.5px;line-height:20.1px;font-size:16px;">$269</div>
<div class="t b" style="left:846px;top:537.5px;width:87.5px;height:20.1px;text-align:right;padding-right:2.5px;line-height:20.1px;font-size:16px;">$3,233</div>
<div class="t b" style="left:938px;top:537.5px;width:78.6px;height:20.1px;text-align:right;padding-right:2.4px;line-height:20.1px;font-size:16px;">42%</div>
<div class="t b" style="left:249px;top:557.6px;width:88.7px;height:20.1px;text-align:right;padding-right:3.3px;line-height:20.1px;font-size:16px;">$120K</div>
<div class="t b" style="left:342px;top:557.6px;width:45.5px;height:20.1px;text-align:right;padding-right:2.5px;line-height:20.1px;font-size:16px;">385%</div>
<div class="t b" style="left:392px;top:557.6px;width:81.4px;height:20.1px;text-align:right;padding-right:2.6px;line-height:20.1px;font-size:16px;">8.12%</div>
<div class="t b" style="left:477px;top:557.6px;width:101.6px;height:20.1px;text-align:right;padding-right:2.4px;line-height:20.1px;font-size:16px;">9.96%</div>
<div class="t b" style="left:583px;top:557.6px;width:80.5px;height:20.1px;text-align:right;padding-right:2.5px;line-height:20.1px;font-size:16px;">$785</div>
<div class="t b" style="left:668px;top:557.6px;width:80.4px;height:20.1px;text-align:right;padding-right:2.6px;line-height:20.1px;font-size:16px;">$995</div>
<div class="t b" style="left:753px;top:557.6px;width:89.5px;height:20.1px;text-align:right;padding-right:2.5px;line-height:20.1px;font-size:16px;">$210</div>
<div class="t b" style="left:846px;top:557.6px;width:87.5px;height:20.1px;text-align:right;padding-right:2.5px;line-height:20.1px;font-size:16px;">$2,525</div>
<div class="t b" style="left:938px;top:557.6px;width:78.6px;height:20.1px;text-align:right;padding-right:2.4px;line-height:20.1px;font-size:16px;">27%</div>
<div class="t b" style="left:249px;top:577.7px;width:88.7px;height:20.1px;text-align:right;padding-right:3.3px;line-height:20.1px;font-size:16px;">$130K</div>
<div class="t b" style="left:342px;top:577.7px;width:45.5px;height:20.1px;text-align:right;padding-right:2.5px;line-height:20.1px;font-size:16px;">417%</div>
<div class="t b" style="left:392px;top:577.7px;width:81.4px;height:20.1px;text-align:right;padding-right:2.6px;line-height:20.1px;font-size:16px;">8.50%</div>
<div class="t bi" style="left:477px;top:577.7px;width:104px;height:20.1px;text-align:center;line-height:20.1px;font-size:16px;">no cap</div>
<div class="t b" style="left:583px;top:577.7px;width:80.5px;height:20.1px;text-align:right;padding-right:2.5px;line-height:20.1px;font-size:16px;">$894</div>
<div class="t b" style="left:668px;top:577.7px;width:80.4px;height:20.1px;text-align:right;padding-right:2.6px;line-height:20.1px;font-size:16px;">$2,031</div>
<div class="t b" style="left:753px;top:577.7px;width:89.5px;height:20.1px;text-align:right;padding-right:2.5px;line-height:20.1px;font-size:16px;">$1,137</div>
<div class="t b" style="left:846px;top:577.7px;width:87.5px;height:20.1px;text-align:right;padding-right:2.5px;line-height:20.1px;font-size:16px;">$13,649</div>
<div class="t b" style="left:938px;top:577.7px;width:78.6px;height:20.1px;text-align:right;padding-right:2.4px;line-height:20.1px;font-size:16px;">127%</div>
<div class="t b" style="left:0px;top:658.1px;width:150px;height:40px;text-align:center;line-height:20px;font-size:16px;">Pre-<br>Retirees</div>
<div class="t b" style="left:151px;top:668.1px;width:41px;height:20px;text-align:center;line-height:20px;font-size:16px;">2</div>
<div class="t b" style="left:191px;top:668.1px;width:57px;height:20px;text-align:center;line-height:20px;font-size:16px;">64, 64</div>
<div class="t b" style="left:249px;top:597.8000000000001px;width:88.7px;height:20.1px;text-align:right;padding-right:3.3px;line-height:20.1px;font-size:16px;">$21K</div>
<div class="t b" style="left:342px;top:597.8000000000001px;width:45.5px;height:20.1px;text-align:right;padding-right:2.5px;line-height:20.1px;font-size:16px;">103%</div>
<div class="t b" style="left:392px;top:597.8000000000001px;width:81.4px;height:20.1px;text-align:right;padding-right:2.6px;line-height:20.1px;font-size:16px;">0.00%</div>
<div class="t b" style="left:477px;top:597.8000000000001px;width:101.6px;height:20.1px;text-align:right;padding-right:2.4px;line-height:20.1px;font-size:16px;">2.10%</div>
<div class="t b" style="left:583px;top:597.8000000000001px;width:80.5px;height:20.1px;text-align:right;padding-right:2.5px;line-height:20.1px;font-size:16px;">$0</div>
<div class="t b" style="left:668px;top:597.8000000000001px;width:80.4px;height:20.1px;text-align:right;padding-right:2.6px;line-height:20.1px;font-size:16px;">$38</div>
<div class="t b" style="left:753px;top:597.8000000000001px;width:89.5px;height:20.1px;text-align:right;padding-right:2.5px;line-height:20.1px;font-size:16px;">$38</div>
<div class="t b" style="left:846px;top:597.8000000000001px;width:87.5px;height:20.1px;text-align:right;padding-right:2.5px;line-height:20.1px;font-size:16px;">$457</div>
<div class="t i" style="left:938px;top:597.8000000000001px;width:81px;height:20.1px;text-align:center;line-height:20.1px;font-size:16px;">infinite</div>
<div class="t i" style="left:1021px;top:596.6px;width:190px;height:20.1px;text-align:left;padding-left:2.7px;line-height:20.1px;font-size:14.1px;">CSR 94</div>
<div class="t b" style="left:249px;top:617.9000000000001px;width:88.7px;height:20.1px;text-align:right;padding-right:3.3px;line-height:20.1px;font-size:16px;">$30K</div>
<div class="t b" style="left:342px;top:617.9000000000001px;width:45.5px;height:20.1px;text-align:right;padding-right:2.5px;line-height:20.1px;font-size:16px;">147%</div>
<div class="t b" style="left:392px;top:617.9000000000001px;width:81.4px;height:20.1px;text-align:right;padding-right:2.6px;line-height:20.1px;font-size:16px;">0.00%</div>
<div class="t b" style="left:477px;top:617.9000000000001px;width:101.6px;height:20.1px;text-align:right;padding-right:2.4px;line-height:20.1px;font-size:16px;">3.94%</div>
<div class="t b" style="left:583px;top:617.9000000000001px;width:80.5px;height:20.1px;text-align:right;padding-right:2.5px;line-height:20.1px;font-size:16px;">$0</div>
<div class="t b" style="left:668px;top:617.9000000000001px;width:80.4px;height:20.1px;text-align:right;padding-right:2.6px;line-height:20.1px;font-size:16px;">$92</div>
<div class="t b" style="left:753px;top:617.9000000000001px;width:89.5px;height:20.1px;text-align:right;padding-right:2.5px;line-height:20.1px;font-size:16px;">$92</div>
<div class="t b" style="left:846px;top:617.9000000000001px;width:87.5px;height:20.1px;text-align:right;padding-right:2.5px;line-height:20.1px;font-size:16px;">$1,105</div>
<div class="t i" style="left:938px;top:617.9000000000001px;width:81px;height:20.1px;text-align:center;line-height:20.1px;font-size:16px;">infinite</div>
<div class="t i" style="left:1021px;top:616.7px;width:190px;height:20.1px;text-align:left;padding-left:2.7px;line-height:20.1px;font-size:14.1px;">CSR 94</div>
<div class="t b" style="left:249px;top:638.0px;width:88.7px;height:20.1px;text-align:right;padding-right:3.3px;line-height:20.1px;font-size:16px;">$40K</div>
<div class="t b" style="left:342px;top:638.0px;width:45.5px;height:20.1px;text-align:right;padding-right:2.5px;line-height:20.1px;font-size:16px;">196%</div>
<div class="t b" style="left:392px;top:638.0px;width:81.4px;height:20.1px;text-align:right;padding-right:2.6px;line-height:20.1px;font-size:16px;">1.83%</div>
<div class="t b" style="left:477px;top:638.0px;width:101.6px;height:20.1px;text-align:right;padding-right:2.4px;line-height:20.1px;font-size:16px;">6.41%</div>
<div class="t b" style="left:583px;top:638.0px;width:80.5px;height:20.1px;text-align:right;padding-right:2.5px;line-height:20.1px;font-size:16px;">$61</div>
<div class="t b" style="left:668px;top:638.0px;width:80.4px;height:20.1px;text-align:right;padding-right:2.6px;line-height:20.1px;font-size:16px;">$202</div>
<div class="t b" style="left:753px;top:638.0px;width:89.5px;height:20.1px;text-align:right;padding-right:2.5px;line-height:20.1px;font-size:16px;">$141</div>
<div class="t b" style="left:846px;top:638.0px;width:87.5px;height:20.1px;text-align:right;padding-right:2.5px;line-height:20.1px;font-size:16px;">$1,693</div>
<div class="t b" style="left:938px;top:638.0px;width:78.6px;height:20.1px;text-align:right;padding-right:2.4px;line-height:20.1px;font-size:16px;">231%</div>
<div class="t i" style="left:1021px;top:636.8px;width:190px;height:20.1px;text-align:left;padding-left:2.7px;line-height:20.1px;font-size:14.1px;">CSR 87</div>
<div class="t b" style="left:249px;top:658.1px;width:88.7px;height:20.1px;text-align:right;padding-right:3.3px;line-height:20.1px;font-size:16px;">$50K</div>
<div class="t b" style="left:342px;top:658.1px;width:45.5px;height:20.1px;text-align:right;padding-right:2.5px;line-height:20.1px;font-size:16px;">245%</div>
<div class="t b" style="left:392px;top:658.1px;width:81.4px;height:20.1px;text-align:right;padding-right:2.6px;line-height:20.1px;font-size:16px;">3.78%</div>
<div class="t b" style="left:477px;top:658.1px;width:101.6px;height:20.1px;text-align:right;padding-right:2.4px;line-height:20.1px;font-size:16px;">8.26%</div>
<div class="t b" style="left:583px;top:658.1px;width:80.5px;height:20.1px;text-align:right;padding-right:2.5px;line-height:20.1px;font-size:16px;">$158</div>
<div class="t b" style="left:668px;top:658.1px;width:80.4px;height:20.1px;text-align:right;padding-right:2.6px;line-height:20.1px;font-size:16px;">$330</div>
<div class="t b" style="left:753px;top:658.1px;width:89.5px;height:20.1px;text-align:right;padding-right:2.5px;line-height:20.1px;font-size:16px;">$173</div>
<div class="t b" style="left:846px;top:658.1px;width:87.5px;height:20.1px;text-align:right;padding-right:2.5px;line-height:20.1px;font-size:16px;">$2,071</div>
<div class="t b" style="left:938px;top:658.1px;width:78.6px;height:20.1px;text-align:right;padding-right:2.4px;line-height:20.1px;font-size:16px;">110%</div>
<div class="t i" style="left:1021px;top:656.9px;width:190px;height:20.1px;text-align:left;padding-left:2.7px;line-height:20.1px;font-size:14.1px;">CSR 73</div>
<div class="t b" style="left:249px;top:678.2px;width:88.7px;height:20.1px;text-align:right;padding-right:3.3px;line-height:20.1px;font-size:16px;">$60K</div>
<div class="t b" style="left:342px;top:678.2px;width:45.5px;height:20.1px;text-align:right;padding-right:2.5px;line-height:20.1px;font-size:16px;">294%</div>
<div class="t b" style="left:392px;top:678.2px;width:81.4px;height:20.1px;text-align:right;padding-right:2.6px;line-height:20.1px;font-size:16px;">5.74%</div>
<div class="t b" style="left:477px;top:678.2px;width:101.6px;height:20.1px;text-align:right;padding-right:2.4px;line-height:20.1px;font-size:16px;">9.78%</div>
<div class="t b" style="left:583px;top:678.2px;width:80.5px;height:20.1px;text-align:right;padding-right:2.5px;line-height:20.1px;font-size:16px;">$287</div>
<div class="t b" style="left:668px;top:678.2px;width:80.4px;height:20.1px;text-align:right;padding-right:2.6px;line-height:20.1px;font-size:16px;">$473</div>
<div class="t b" style="left:753px;top:678.2px;width:89.5px;height:20.1px;text-align:right;padding-right:2.5px;line-height:20.1px;font-size:16px;">$186</div>
<div class="t b" style="left:846px;top:678.2px;width:87.5px;height:20.1px;text-align:right;padding-right:2.5px;line-height:20.1px;font-size:16px;">$2,233</div>
<div class="t b" style="left:938px;top:678.2px;width:78.6px;height:20.1px;text-align:right;padding-right:2.4px;line-height:20.1px;font-size:16px;">65%</div>
<div class="t b" style="left:249px;top:698.3000000000001px;width:88.7px;height:20.1px;text-align:right;padding-right:3.3px;line-height:20.1px;font-size:16px;">$70K</div>
<div class="t b" style="left:342px;top:698.3000000000001px;width:45.5px;height:20.1px;text-align:right;padding-right:2.5px;line-height:20.1px;font-size:16px;">342%</div>
<div class="t b" style="left:392px;top:698.3000000000001px;width:81.4px;height:20.1px;text-align:right;padding-right:2.6px;line-height:20.1px;font-size:16px;">7.06%</div>
<div class="t b" style="left:477px;top:698.3000000000001px;width:101.6px;height:20.1px;text-align:right;padding-right:2.4px;line-height:20.1px;font-size:16px;">9.96%</div>
<div class="t b" style="left:583px;top:698.3000000000001px;width:80.5px;height:20.1px;text-align:right;padding-right:2.5px;line-height:20.1px;font-size:16px;">$412</div>
<div class="t b" style="left:668px;top:698.3000000000001px;width:80.4px;height:20.1px;text-align:right;padding-right:2.6px;line-height:20.1px;font-size:16px;">$580</div>
<div class="t b" style="left:753px;top:698.3000000000001px;width:89.5px;height:20.1px;text-align:right;padding-right:2.5px;line-height:20.1px;font-size:16px;">$168</div>
<div class="t b" style="left:846px;top:698.3000000000001px;width:87.5px;height:20.1px;text-align:right;padding-right:2.5px;line-height:20.1px;font-size:16px;">$2,019</div>
<div class="t b" style="left:938px;top:698.3000000000001px;width:78.6px;height:20.1px;text-align:right;padding-right:2.4px;line-height:20.1px;font-size:16px;">41%</div>
<div class="t b" style="left:249px;top:718.4px;width:88.7px;height:20.1px;text-align:right;padding-right:3.3px;line-height:20.1px;font-size:16px;">$80K</div>
<div class="t b" style="left:342px;top:718.4px;width:45.5px;height:20.1px;text-align:right;padding-right:2.5px;line-height:20.1px;font-size:16px;">391%</div>
<div class="t b" style="left:392px;top:718.4px;width:81.4px;height:20.1px;text-align:right;padding-right:2.6px;line-height:20.1px;font-size:16px;">8.28%</div>
<div class="t b" style="left:477px;top:718.4px;width:101.6px;height:20.1px;text-align:right;padding-right:2.4px;line-height:20.1px;font-size:16px;">9.96%</div>
<div class="t b" style="left:583px;top:718.4px;width:80.5px;height:20.1px;text-align:right;padding-right:2.5px;line-height:20.1px;font-size:16px;">$552</div>
<div class="t b" style="left:668px;top:718.4px;width:80.4px;height:20.1px;text-align:right;padding-right:2.6px;line-height:20.1px;font-size:16px;">$663</div>
<div class="t b" style="left:753px;top:718.4px;width:89.5px;height:20.1px;text-align:right;padding-right:2.5px;line-height:20.1px;font-size:16px;">$111</div>
<div class="t b" style="left:846px;top:718.4px;width:87.5px;height:20.1px;text-align:right;padding-right:2.5px;line-height:20.1px;font-size:16px;">$1,333</div>
<div class="t b" style="left:938px;top:718.4px;width:78.6px;height:20.1px;text-align:right;padding-right:2.4px;line-height:20.1px;font-size:16px;">20%</div>
<div class="t b" style="left:249px;top:738.5px;width:88.7px;height:20.1px;text-align:right;padding-right:3.3px;line-height:20.1px;font-size:16px;">$90K</div>
<div class="t b" style="left:342px;top:738.5px;width:45.5px;height:20.1px;text-align:right;padding-right:2.5px;line-height:20.1px;font-size:16px;">440%</div>
<div class="t b" style="left:392px;top:738.5px;width:81.4px;height:20.1px;text-align:right;padding-right:2.6px;line-height:20.1px;font-size:16px;">8.50%</div>
<div class="t bi" style="left:477px;top:738.5px;width:104px;height:20.1px;text-align:center;line-height:20.1px;font-size:16px;">no cap</div>
<div class="t b" style="left:583px;top:738.5px;width:80.5px;height:20.1px;text-align:right;padding-right:2.5px;line-height:20.1px;font-size:16px;">$637</div>
<div class="t b" style="left:668px;top:738.5px;width:80.4px;height:20.1px;text-align:right;padding-right:2.6px;line-height:20.1px;font-size:16px;">$2,934</div>
<div class="t b" style="left:753px;top:738.5px;width:89.5px;height:20.1px;text-align:right;padding-right:2.5px;line-height:20.1px;font-size:16px;">$2,297</div>
<div class="t b" style="left:846px;top:738.5px;width:87.5px;height:20.1px;text-align:right;padding-right:2.5px;line-height:20.1px;font-size:16px;">$27,565</div>
<div class="t b" style="left:938px;top:738.5px;width:78.6px;height:20.1px;text-align:right;padding-right:2.4px;line-height:20.1px;font-size:16px;">361%</div>
</body></html>
